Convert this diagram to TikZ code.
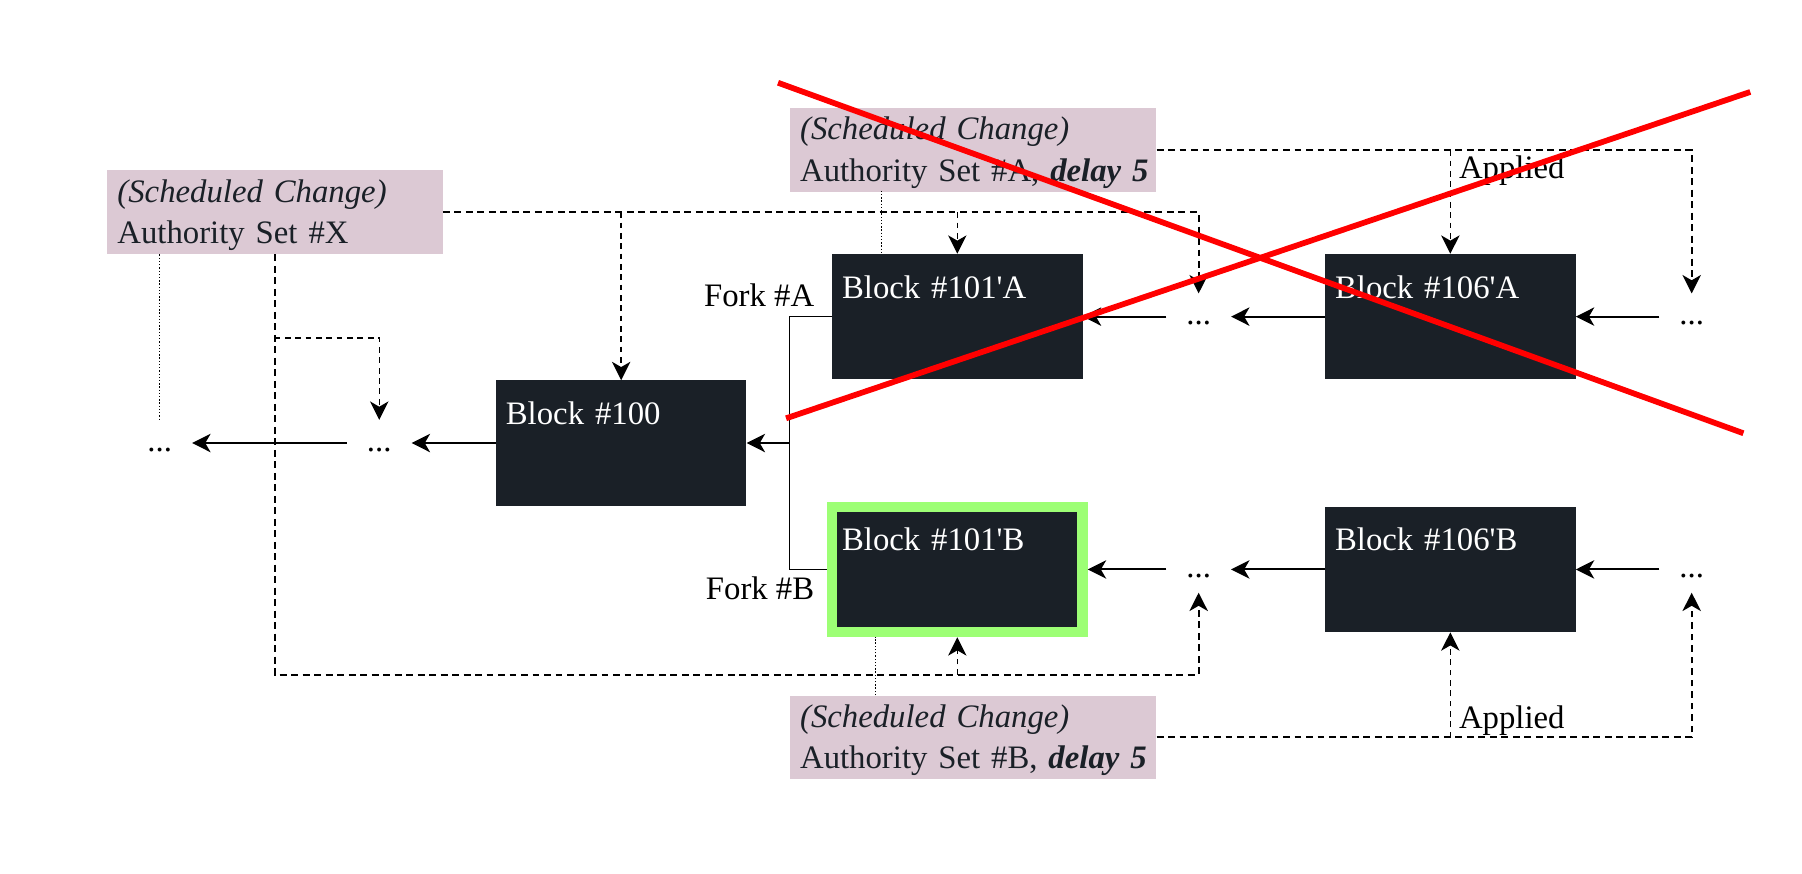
\documentclass[tikz,border=0pt]{standalone}
\usepackage{fontspec}
\setmainfont{Liberation Serif}[Ligatures=TeXOff]
\usepackage{tikz}
\usetikzlibrary{arrows.meta}
\definecolor{blockfill}{RGB}{26,32,39}
\definecolor{notefill}{RGB}{220,201,212}
\definecolor{freshgreen}{RGB}{157,255,117}
\newcommand{\sched}{\rule{0pt}{27.5pt}\textit{(Scheduled Change)}}
\newcommand{\dly}{\textbf{\textit{delay 5}}}
\newcommand{\lastline}{\rule[-9pt]{0pt}{9pt}}

\begin{document}
\begin{tikzpicture}[x=1pt,y=-1pt,
	font=\fontsize{28.5}{36.3}\selectfont,
	>={Stealth[length=16pt,width=16pt,inset=4.6pt]},
	block/.style={fill=blockfill,text=white,align=left,inner xsep=8.7pt,inner ysep=0pt,
		text width=200.6pt,text height=38.3pt,text depth=70.7pt},
	chosen/.style={draw=freshgreen,line width=9pt,outer sep=4.5pt},
	note/.style={fill=notefill,text=blockfill,align=left,anchor=north west,inner xsep=9pt,inner ysep=0pt,minimum height=73pt,text width=#1},
	dots/.style={inner sep=0pt,minimum width=56pt,minimum height=40pt,text height=14pt,text depth=0pt},
	link/.style={line width=1.75pt},
	setdash/.style={line width=1.7pt,dash pattern=on 6pt off 4pt},
	subdash/.style={line width=1.3pt,dash pattern=on 5pt off 4pt},
	tiedot/.style={line width=1.2pt,dash pattern=on 1.2pt off 1.6pt},
	strike/.style={red,line width=5pt}]
	\useasboundingbox (0,0) rectangle (1568,760);
	\node[note=274pt] (px) at (93,148) {\sched\\Authority Set \#X\lastline};
	\node[note=301pt] (pa) at (687,94) {\sched\\\mbox{Authority Set \#A, \dly}\lastline};
	\node[note=301pt] (pb) at (687,605) {\sched\\\mbox{Authority Set \#B, \dly}\lastline};
	\node[block] (b100) at (540.5,385.5) {Block \#100};
	\node[block] (b101a) at (833,275.5) {Block \#101'A};
	\node[block] (b106a) at (1262,275.5) {Block \#106'A};
	\node[block,chosen] (b101b) at (833,495.5) {Block \#101'B};
	\node[block] (b106b) at (1262,495.5) {Block \#106'B};
	\node[dots] (d1) at (139,385.5) {...};
	\node[dots] (d2) at (330,385.5) {...};
	\node[dots] (d3a) at (1043,275.5) {...};
	\node[dots] (d4a) at (1472,275.5) {...};
	\node[dots] (d3b) at (1043,495.5) {...};
	\node[dots] (d4b) at (1472,495.5) {...};
	\node[anchor=base east] (fka) at (712,267) {Fork \#A};
	\node[anchor=base east] (fkb) at (712,522) {Fork \#B};
	\node[anchor=base west] (appa) at (1266,155) {Applied};
	\node[anchor=base west] (appb) at (1266,634) {Applied};
	\coordinate (split) at (687,385.5);
	\draw[line width=1.2pt] (b101a.west) -| (split) |- (b101b.west);
	\draw[link,->] (split) -- (b100.east);
	\draw[link,->] (b100.west) -- (d2.east);
	\draw[link,->] (d2.west) -- (d1.east);
	\draw[link,->] (d3a.west) -- (b101a.east);
	\draw[link,->] (b106a.west) -- (d3a.east);
	\draw[link,->] (d4a.west) -- (b106a.east);
	\draw[link,->] (d3b.west) -- (b101b.east);
	\draw[link,->] (b106b.west) -- (d3b.east);
	\draw[link,->] (d4b.west) -- (b106b.east);
	\draw[setdash,->] (px.east) -| (d3a.north);
	\draw[subdash,->] (px.east -| b100) -- (b100.north);
	\draw[subdash,->] (px.east -| b101a) -- (b101a.north);
	\coordinate (xdrop) at (239,587);
	\coordinate (xknee) at (239,294);
	\draw[setdash,->] (px.south -| xdrop) -- (xdrop) -| (d3b.south);
	\draw[subdash,->] (xdrop -| b101b) -- (b101b.south);
	\draw[subdash,->] (xknee) -| (d2.north);
	\draw[tiedot] (px.south -| d1) -- (d1.north);
	\draw[setdash,->] (pa.east) -| (d4a.north);
	\draw[subdash,->] (pa.east -| b106a) -- (b106a.north);
	\coordinate (ta) at (767,166);
	\draw[tiedot] (ta) -- (ta |- b101a.north);
	\draw[setdash,->] (pb.east) -| (d4b.south);
	\draw[subdash,->] (pb.east -| b106b) -- (b106b.south);
	\coordinate (tb) at (762,605);
	\draw[tiedot] (tb) -- (tb |- b101b.south);
	\draw[strike] (677,72) -- (1517,377);
	\draw[strike] (684,364) -- (1523,80);
\end{tikzpicture}
\end{document}
